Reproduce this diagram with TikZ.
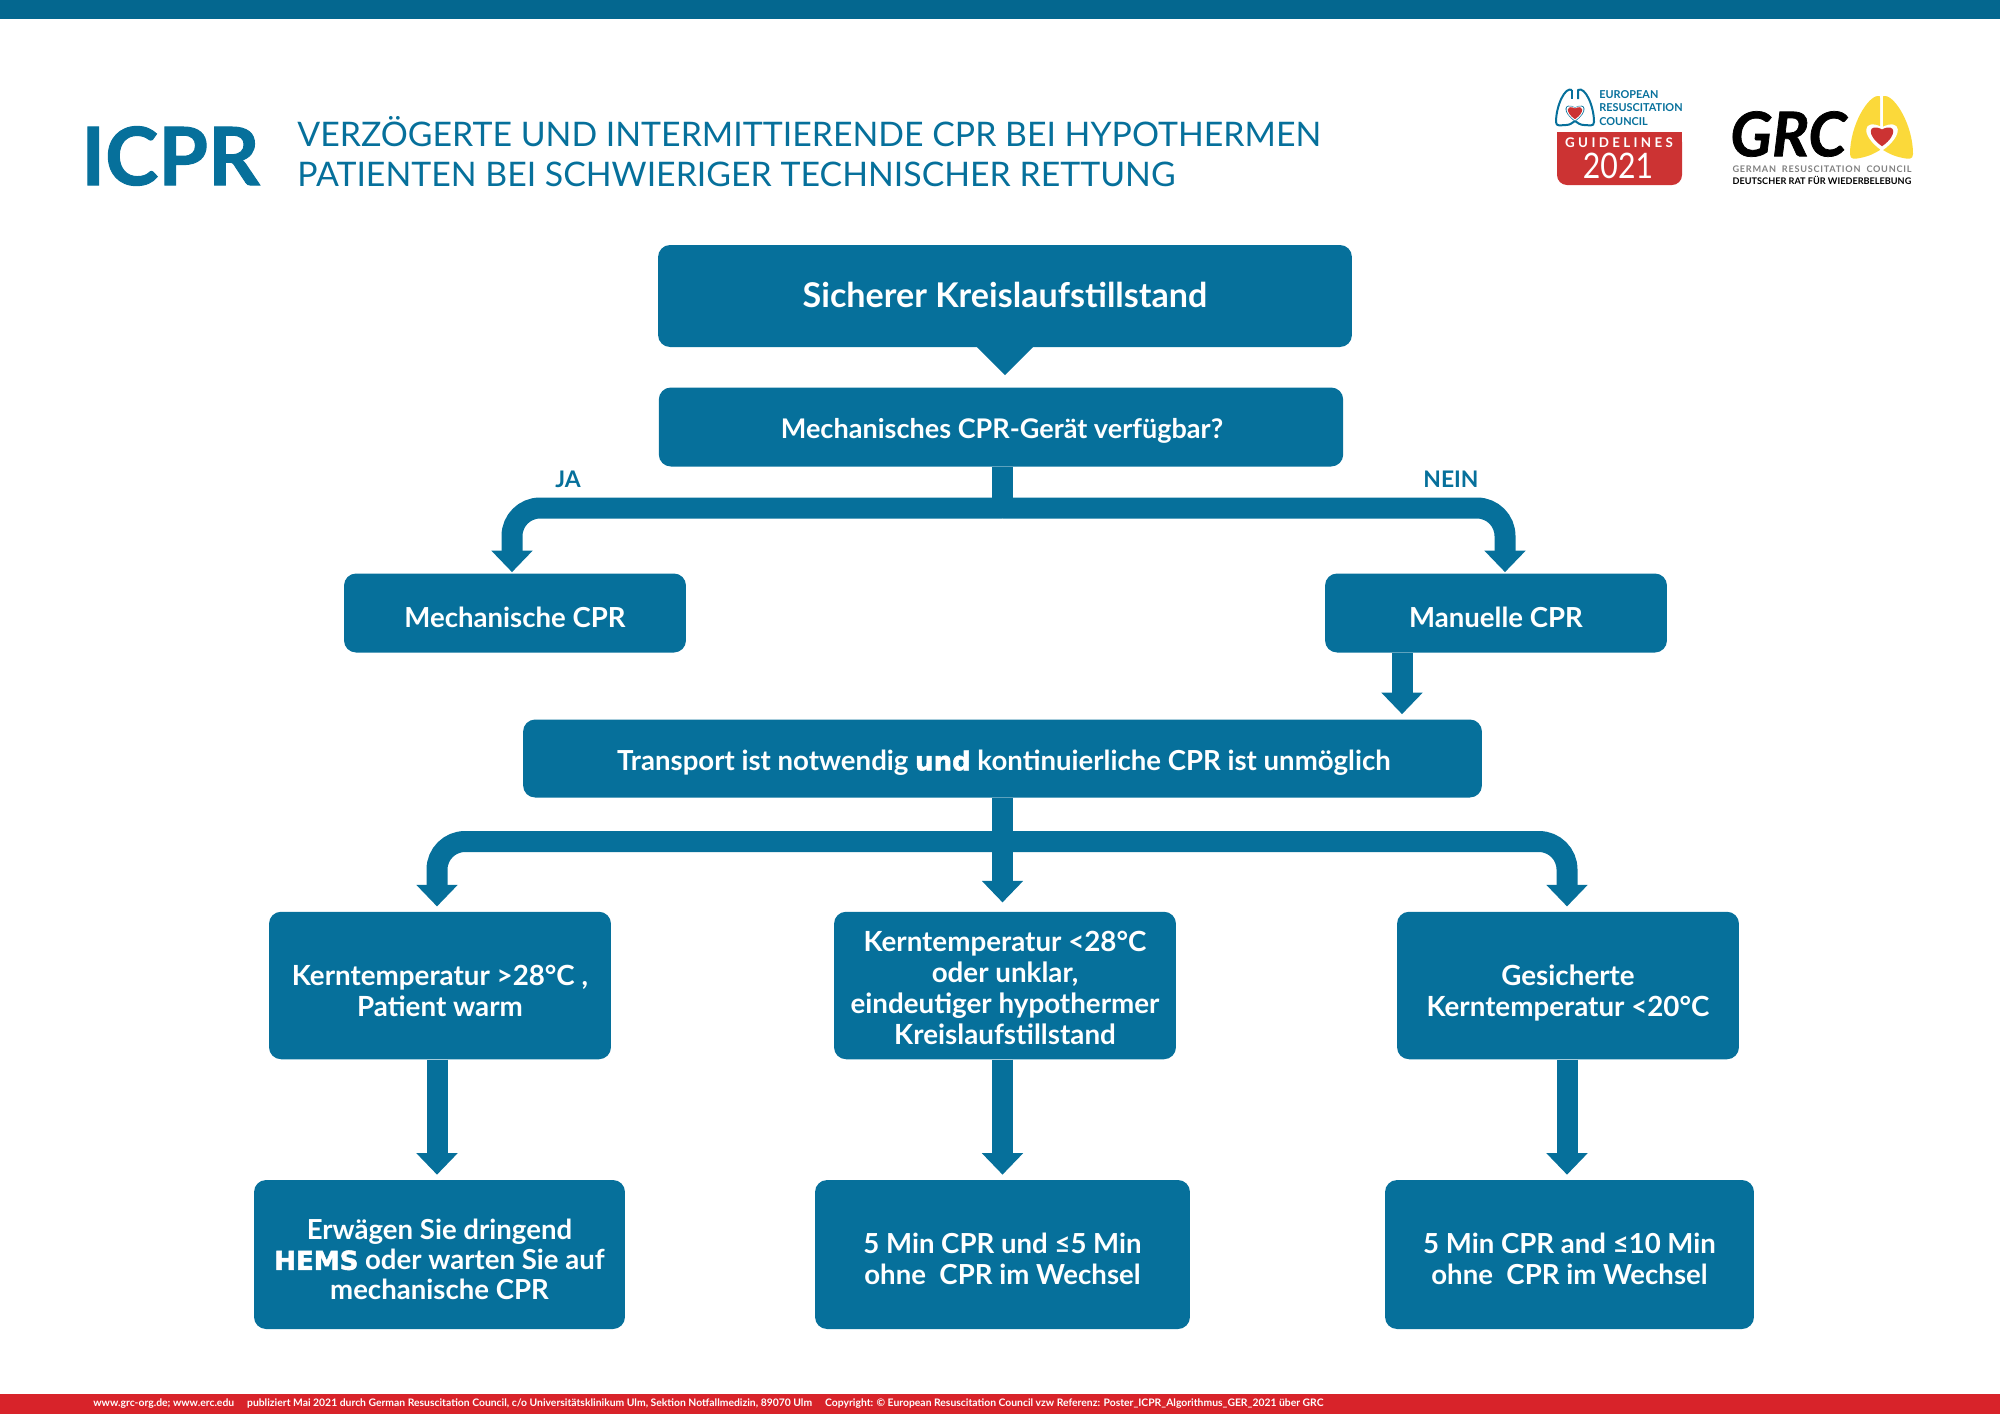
\documentclass[tikz,border=0pt]{standalone}
\usepackage{fontspec}
\setmainfont{Lato}
\newfontfamily\heavyfont{DejaVu Sans}[BoldFeatures={FakeBold=2}]
\newfontfamily\blackfont{Lato}[BoldFeatures={FakeBold=1.2},BoldItalicFeatures={FakeBold=1.2}]
\usetikzlibrary{arrows.meta}
\definecolor{ercblue}{HTML}{06709B}
\definecolor{topblue}{HTML}{04678F}
\definecolor{footred}{HTML}{D8232A}
\definecolor{logored}{HTML}{CC3333}
\definecolor{lungyellow}{HTML}{FBD93A}
\definecolor{grcgrey}{HTML}{808080}
\newcommand{\fsize}[2]{\fontsize{#1pt}{#2pt}\selectfont}
\newcommand{\heavy}[1]{{\heavyfont\bfseries\fontsize{14.8pt}{17.6pt}\selectfont #1}}
\begin{document}
\begin{tikzpicture}[x=0.02cm,y=-0.02cm,
  box/.style={fill=ercblue, text=white, rounded corners=0.24cm, align=center, inner sep=0pt, text depth=0cm, font=\bfseries\fsize{15.7}{17.6}},
  boxtext/.style={text=white, align=center, inner sep=0pt, text depth=0cm, font=\bfseries\fsize{15.8}{17.6}},
  lift/.style={execute at begin node={\rule{0pt}{#1}}},
  arr/.style={draw=ercblue, line width=0.42cm, -{Triangle[width=0.8cm,length=0.43cm]}, rounded corners=0.56cm, shorten >=0.02cm},
  stem/.style={draw=ercblue, line width=0.42cm},
  tag/.style={text=ercblue, font=\bfseries\fsize{13}{15}, inner sep=0pt},
  heartshape/.pic={\fill (0,9) .. controls (-13,0) and (-11,-10) .. (0,-4.5) .. controls (11,-10) and (13,0) .. (0,9) -- cycle;}
]
\useasboundingbox (0,0) rectangle (2000,1414);
\fill[topblue] (0,0) rectangle (2000,19);
\fill[footred] (0,1394) rectangle (2000,1414);
\node[text=white, anchor=west, inner sep=0pt, font=\bfseries\fsize{5.9}{7}] (foot) at (93,1404) {www.grc-org.de; www.erc.edu\quad\ publiziert Mai 2021 durch German Resuscitation Council, c/o Universitätsklinikum Ulm, Sektion Notfallmedizin, 89070 Ulm\quad\ Copyright: © European Resuscitation Council vzw Referenz: Poster\_ICPR\_Algorithmus\_GER\_2021 über GRC};
% heading
\node[text=ercblue, anchor=west, inner sep=0pt, font=\blackfont\bfseries\fsize{45.7}{50}] (icpr) at (81,156) {ICPR};
\node[text=ercblue, anchor=west, inner sep=0pt, font=\fsize{19.25}{22.6}, align=left] (title) at (297,151.5) {VERZÖGERTE UND INTERMITTIERENDE CPR BEI HYPOTHERMEN\\PATIENTEN BEI SCHWIERIGER TECHNISCHER RETTUNG};
% boxes
\node[box, minimum width=13.88cm, minimum height=2.04cm, text depth=0.04cm, font=\bfseries\fsize{19.4}{21}] (arrest) at (1005,296) {Sicherer Kreislaufstillstand};
\node[box, lift=0.47cm, minimum width=13.69cm, minimum height=1.58cm, font=\bfseries\fsize{15.4}{17.6}] (device) at (1001,427) {\hspace{0.04cm}Mechanisches CPR-Gerät verfügbar?};
\node[box, lift=0.59cm, minimum width=6.84cm, minimum height=1.58cm] (mech) at (515,613) {Mechanische CPR};
\node[box, lift=0.59cm, minimum width=6.84cm, minimum height=1.58cm] (manual) at (1496,613) {Manuelle CPR};
\node[box, lift=0.47cm, minimum width=19.18cm, minimum height=1.56cm] (transport) at (1002.5,758.5) {\hspace{0.06cm}Transport ist notwendig \heavy{und} kontinuierliche CPR ist unmöglich};
\node[box, minimum width=6.84cm, minimum height=2.95cm] (warm) at (440,985.5) {};
\node[boxtext] (warmtext) at ([yshift=-0.1cm]warm.center) {Kerntemperatur >28°C ,\\Patient warm};
\node[box, minimum width=6.84cm, minimum height=2.95cm] (unclear) at (1005,985.5) {};
\node[boxtext] (uncleartext) at ([yshift=-0.05cm]unclear.center) {Kerntemperatur <28°C\\oder unklar,\\eindeutiger hypothermer\\Kreislaufstillstand};
\node[box, minimum width=6.84cm, minimum height=2.95cm] (cold) at (1568,985.5) {};
\node[boxtext] (coldtext) at ([yshift=-0.1cm]cold.center) {Gesicherte\\Kerntemperatur <20°C};
\node[box, minimum width=7.42cm, minimum height=2.98cm] (hems) at (439.5,1254.5) {};
\node[boxtext, font=\bfseries\fsize{15.7}{17.07}] (hemstext) at ([yshift=-0.1cm]hems.center) {Erwägen Sie dringend\\\heavy{HEMS} oder warten Sie auf\\mechanische CPR};
\node[box, minimum width=7.5cm, minimum height=2.98cm] (five) at (1002.5,1254.5) {};
\node[boxtext, font=\bfseries\fsize{15.7}{17.6}] (fivetext) at ([yshift=-0.09cm]five.center) {5 Min CPR und ≤5 Min\\ohne\ \ CPR im Wechsel};
\node[box, minimum width=7.38cm, minimum height=2.98cm] (ten) at (1569.5,1254.5) {};
\node[boxtext, font=\bfseries\fsize{15.7}{17.6}] (tentext) at ([yshift=-0.09cm]ten.center) {5 Min CPR and ≤10 Min\\ohne\ \ CPR im Wechsel};
\node[tag] (ja) at (568,479) {JA};
\node[tag] (nein) at (1451,479) {NEIN};
% connectors
\coordinate (splitja) at (1002.5,508);
\coordinate (splitrow) at (1002.5,841.5);
\draw[draw=ercblue, line width=0pt, -{Triangle[width=1.16cm,length=0.58cm]}, shorten >=0.24cm] (arrest.south) -- (arrest.south |- device.north);
\draw[arr] (splitja) -| ([xshift=-0.06cm]mech.north);
\draw[arr] (splitja) -| ([xshift=0.18cm]manual.north);
\draw[stem] (splitja |- device.south) -- ([yshift=-0.2cm]splitja);
\draw[arr, shorten >=0.1cm] ([xshift=-1.88cm]manual.south) -- ([xshift=-1.88cm]manual.south |- transport.north);
\draw[stem] (transport.south) -- (splitrow);
\draw[arr, shorten >=0.1cm] (splitrow) -| ([xshift=-0.06cm]warm.north);
\draw[arr, shorten >=0.1cm] (splitrow) -| ([xshift=-0.02cm]cold.north);
\draw[arr, shorten >=0.18cm] (splitrow) -- (splitrow |- unclear.north);
\draw[arr, shorten >=0.1cm] ([xshift=-0.06cm]warm.south) -- ([xshift=-0.06cm]warm.south |- hems.north);
\draw[arr, shorten >=0.1cm] (splitrow |- unclear.south) -- (splitrow |- five.north);
\draw[arr, shorten >=0.1cm] ([xshift=-0.02cm]cold.south) -- ([xshift=-0.02cm]cold.south |- ten.north);
% ERC logo
\draw[ercblue, line width=0.04cm, line join=round] (1572,90) .. controls (1565,86) and (1556,106) .. (1556,122) .. controls (1556,127) and (1561,125) .. (1566,125) .. controls (1570,125) and (1572,123) .. (1575,121) .. controls (1578,123) and (1580,125) .. (1584,125) .. controls (1589,125) and (1594,127) .. (1594,122) .. controls (1594,106) and (1585,86) .. (1578,90) -- (1578,99);
\draw[ercblue, line width=0.04cm] (1572,90) -- (1572,99);
\pic[color=ercblue, scale=1.05] at (1575,112) {heartshape};
\pic[color=white, scale=0.95] at (1575,112) {heartshape};
\pic[color=logored, scale=0.8] at (1575,112) {heartshape};
\node[text=ercblue, anchor=west, align=left, inner sep=0pt, font=\bfseries\fsize{6.2}{7.5}] (erc) at (1599,108) {EUROPEAN\\RESUSCITATION\\COUNCIL};
\fill[logored, rounded corners=0.2cm] (1557,132) -- (1682,132) -- (1682,185) -- (1557,185) -- cycle;
\fill[logored] (1557,132) rectangle (1682,150);
\node[text=white, inner sep=0pt, font=\bfseries\fsize{7.6}{9}\addfontfeature{LetterSpace=25}] (guide) at (1619,143) {GUIDELINES};
\node[text=white, inner sep=0pt, font=\fsize{20}{22}] (year) at (1618,166) {\scalebox{0.86}[1]{2021}};
% GRC logo
\node[text=black, anchor=west, inner sep=0pt, font=\blackfont\bfseries\itshape\fsize{35}{38}] (grc) at (1730,134) {GRC};
\fill[lungyellow] (1878,96) .. controls (1868,96) and (1850,125) .. (1850,154) .. controls (1850,160) and (1855,159) .. (1860,158) .. controls (1870,156) and (1875,153) .. (1880,150) -- (1880,98) .. controls (1880,96) .. cycle;
\fill[lungyellow] (1885,96) .. controls (1895,96) and (1913,125) .. (1913,154) .. controls (1913,160) and (1908,159) .. (1903,158) .. controls (1893,156) and (1888,153) .. (1883,150) -- (1883,98) .. controls (1883,96) .. cycle;
\pic[color=white, scale=1.75] at (1882,135) {heartshape};
\pic[color=logored, scale=1.25] at (1882,135) {heartshape};
\node[text=grcgrey, inner sep=0pt, font=\bfseries\fsize{5.2}{6}\addfontfeature{LetterSpace=8}] (grcen) at (1822,169) {GERMAN\ \ RESUSCITATION\ \ COUNCIL};
\node[text=black, inner sep=0pt, font=\bfseries\fsize{5.2}{6}] (grcde) at (1822,180) {DEUTSCHER RAT FÜR WIEDERBELEBUNG};
\end{tikzpicture}
\end{document}
